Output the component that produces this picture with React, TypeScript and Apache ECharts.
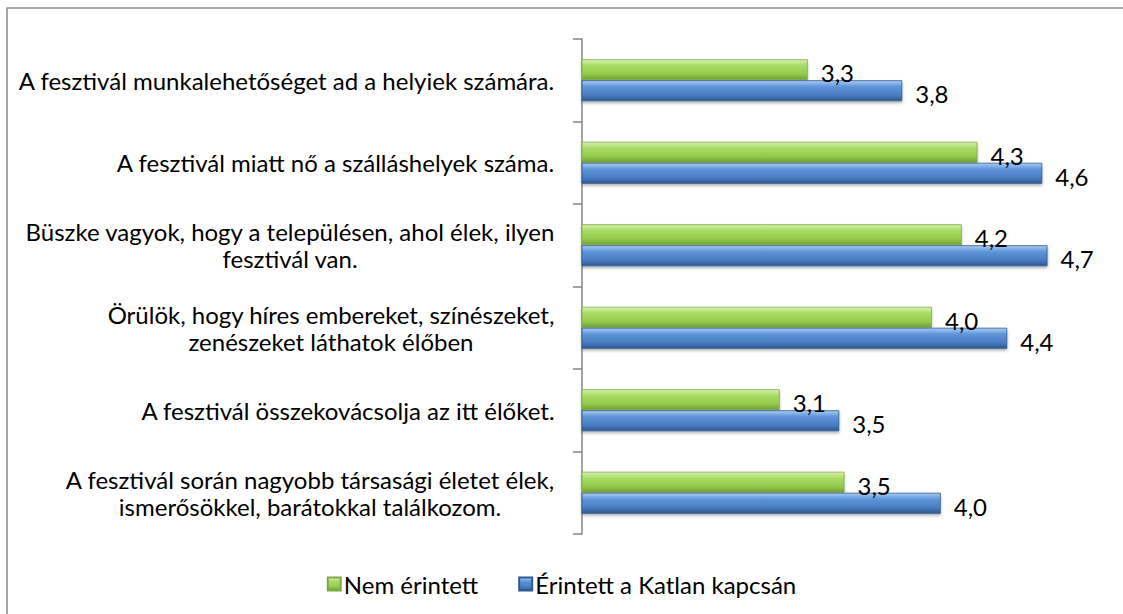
import React, { useEffect, useRef } from 'react';
import * as echarts from 'echarts';

const categories = [
  'A fesztivál munkalehetőséget ad a helyiek számára.',
  'A fesztivál miatt nő a szálláshelyek száma.',
  'Büszke vagyok, hogy a településen, ahol élek, ilyen\nfesztivál van.',
  'Örülök, hogy híres embereket, színészeket,\nzenészeket láthatok élőben',
  'A fesztivál összekovácsolja az itt élőket.',
  'A fesztivál során nagyobb társasági életet élek,\nismerősökkel, barátokkal találkozom.',
];
const seriesNames = ['Nem érintett', 'Érintett a Katlan kapcsán'];
const nemErintett = [3.29, 4.26, 4.17, 4.0, 3.13, 3.5];
const erintett = [3.83, 4.63, 4.66, 4.43, 3.47, 4.05];

const FONT = 'Lato';
const FS = 24;

function measure(text: string): number {
  const c = document.createElement('canvas').getContext('2d');
  if (!c) return text.length * FS * 0.5;
  c.font = `${FS}px ${FONT}`;
  return c.measureText(text).width;
}

export default function App() {
  const ref = useRef<HTMLDivElement>(null);
  useEffect(() => {
    if (!ref.current) return;
    const chart = echarts.init(ref.current, null, { renderer: 'svg' });
    const rich: Record<string, any> = {};
    categories.forEach((c, i) => {
      const w = Math.max(...c.split('\n').map(measure));
      rich['r' + i] = {
        width: Math.ceil(w) + 2,
        align: 'center',
        fontSize: FS,
        fontFamily: FONT,
        color: '#000',
        lineHeight: 27,
      };
    });
    const fmt = (v: number) => v.toFixed(1).replace('.', ',');
    const green = new echarts.graphic.LinearGradient(0, 0, 0, 1, [
      { offset: 0, color: '#d6f2ad' },
      { offset: 0.3, color: '#a9db64' },
      { offset: 0.7, color: '#95cb4d' },
      { offset: 1, color: '#6e9e33' },
    ]);
    const blue = new echarts.graphic.LinearGradient(0, 0, 0, 1, [
      { offset: 0, color: '#a9cbf2' },
      { offset: 0.3, color: '#5d95da' },
      { offset: 0.7, color: '#4a7ec2' },
      { offset: 1, color: '#2d5890' },
    ]);
    const labelCfg = {
      show: true,
      position: 'right',
      distance: 13,
      offset: [0, 3],
      formatter: (p: any) => fmt(p.value),
      fontSize: FS,
      fontFamily: FONT,
      color: '#000',
    };
    chart.setOption({
      animation: false,
      backgroundColor: '#fff',
      textStyle: { fontFamily: FONT },
      graphic: [
        {
          type: 'rect',
          shape: { x: 7, y: 8, width: 1300, height: 800 },
          style: { fill: 'none', stroke: '#8c8c8c', lineWidth: 1.5 },
          silent: true,
        },
      ],
      grid: { left: 582, top: 39, width: 525, height: 495 },
      legend: {
        data: seriesNames,
        left: 'center',
        top: 567,
        itemWidth: 13,
        itemHeight: 13,
        itemGap: 40,
        icon: 'rect',
        textStyle: { fontSize: FS, fontFamily: FONT, color: '#000', padding: [0, 0, 0, -2] },
      },
      xAxis: {
        type: 'value',
        min: 2,
        max: 5,
        show: false,
        splitLine: { show: false },
      },
      yAxis: {
        type: 'category',
        inverse: true,
        data: categories,
        axisLine: { show: true, lineStyle: { color: '#868686', width: 1.5 } },
        axisTick: { show: true, length: 9, lineStyle: { color: '#868686', width: 1.5 } },
        axisLabel: {
          margin: 26,
          formatter: (value: string, index: number) =>
            value.split('\n').map((l) => `{r${index}|${l}}`).join('\n'),
          rich,
        },
      },
      series: [
        {
          name: seriesNames[0],
          type: 'bar',
          data: nemErintett,
          barWidth: 21,
          barGap: '0%',
          itemStyle: {
            color: green,
            borderColor: '#7ea94a',
            borderWidth: 0.8,
            shadowColor: 'rgba(0,0,0,0.25)',
            shadowBlur: 3,
            shadowOffsetY: 2,
          },
          label: labelCfg,
        },
        {
          name: seriesNames[1],
          type: 'bar',
          data: erintett,
          barWidth: 21,
          barGap: '0%',
          itemStyle: {
            color: blue,
            borderColor: '#2f5a8e',
            borderWidth: 0.8,
            shadowColor: 'rgba(0,0,0,0.3)',
            shadowBlur: 3,
            shadowOffsetY: 2,
          },
          label: labelCfg,
        },
      ],
    });
    return () => chart.dispose();
  }, []);
  return (
    <div
      ref={ref}
      style={{ position: 'fixed', left: 0, top: 0, width: 1123, height: 614 }}
    />
  );
}
